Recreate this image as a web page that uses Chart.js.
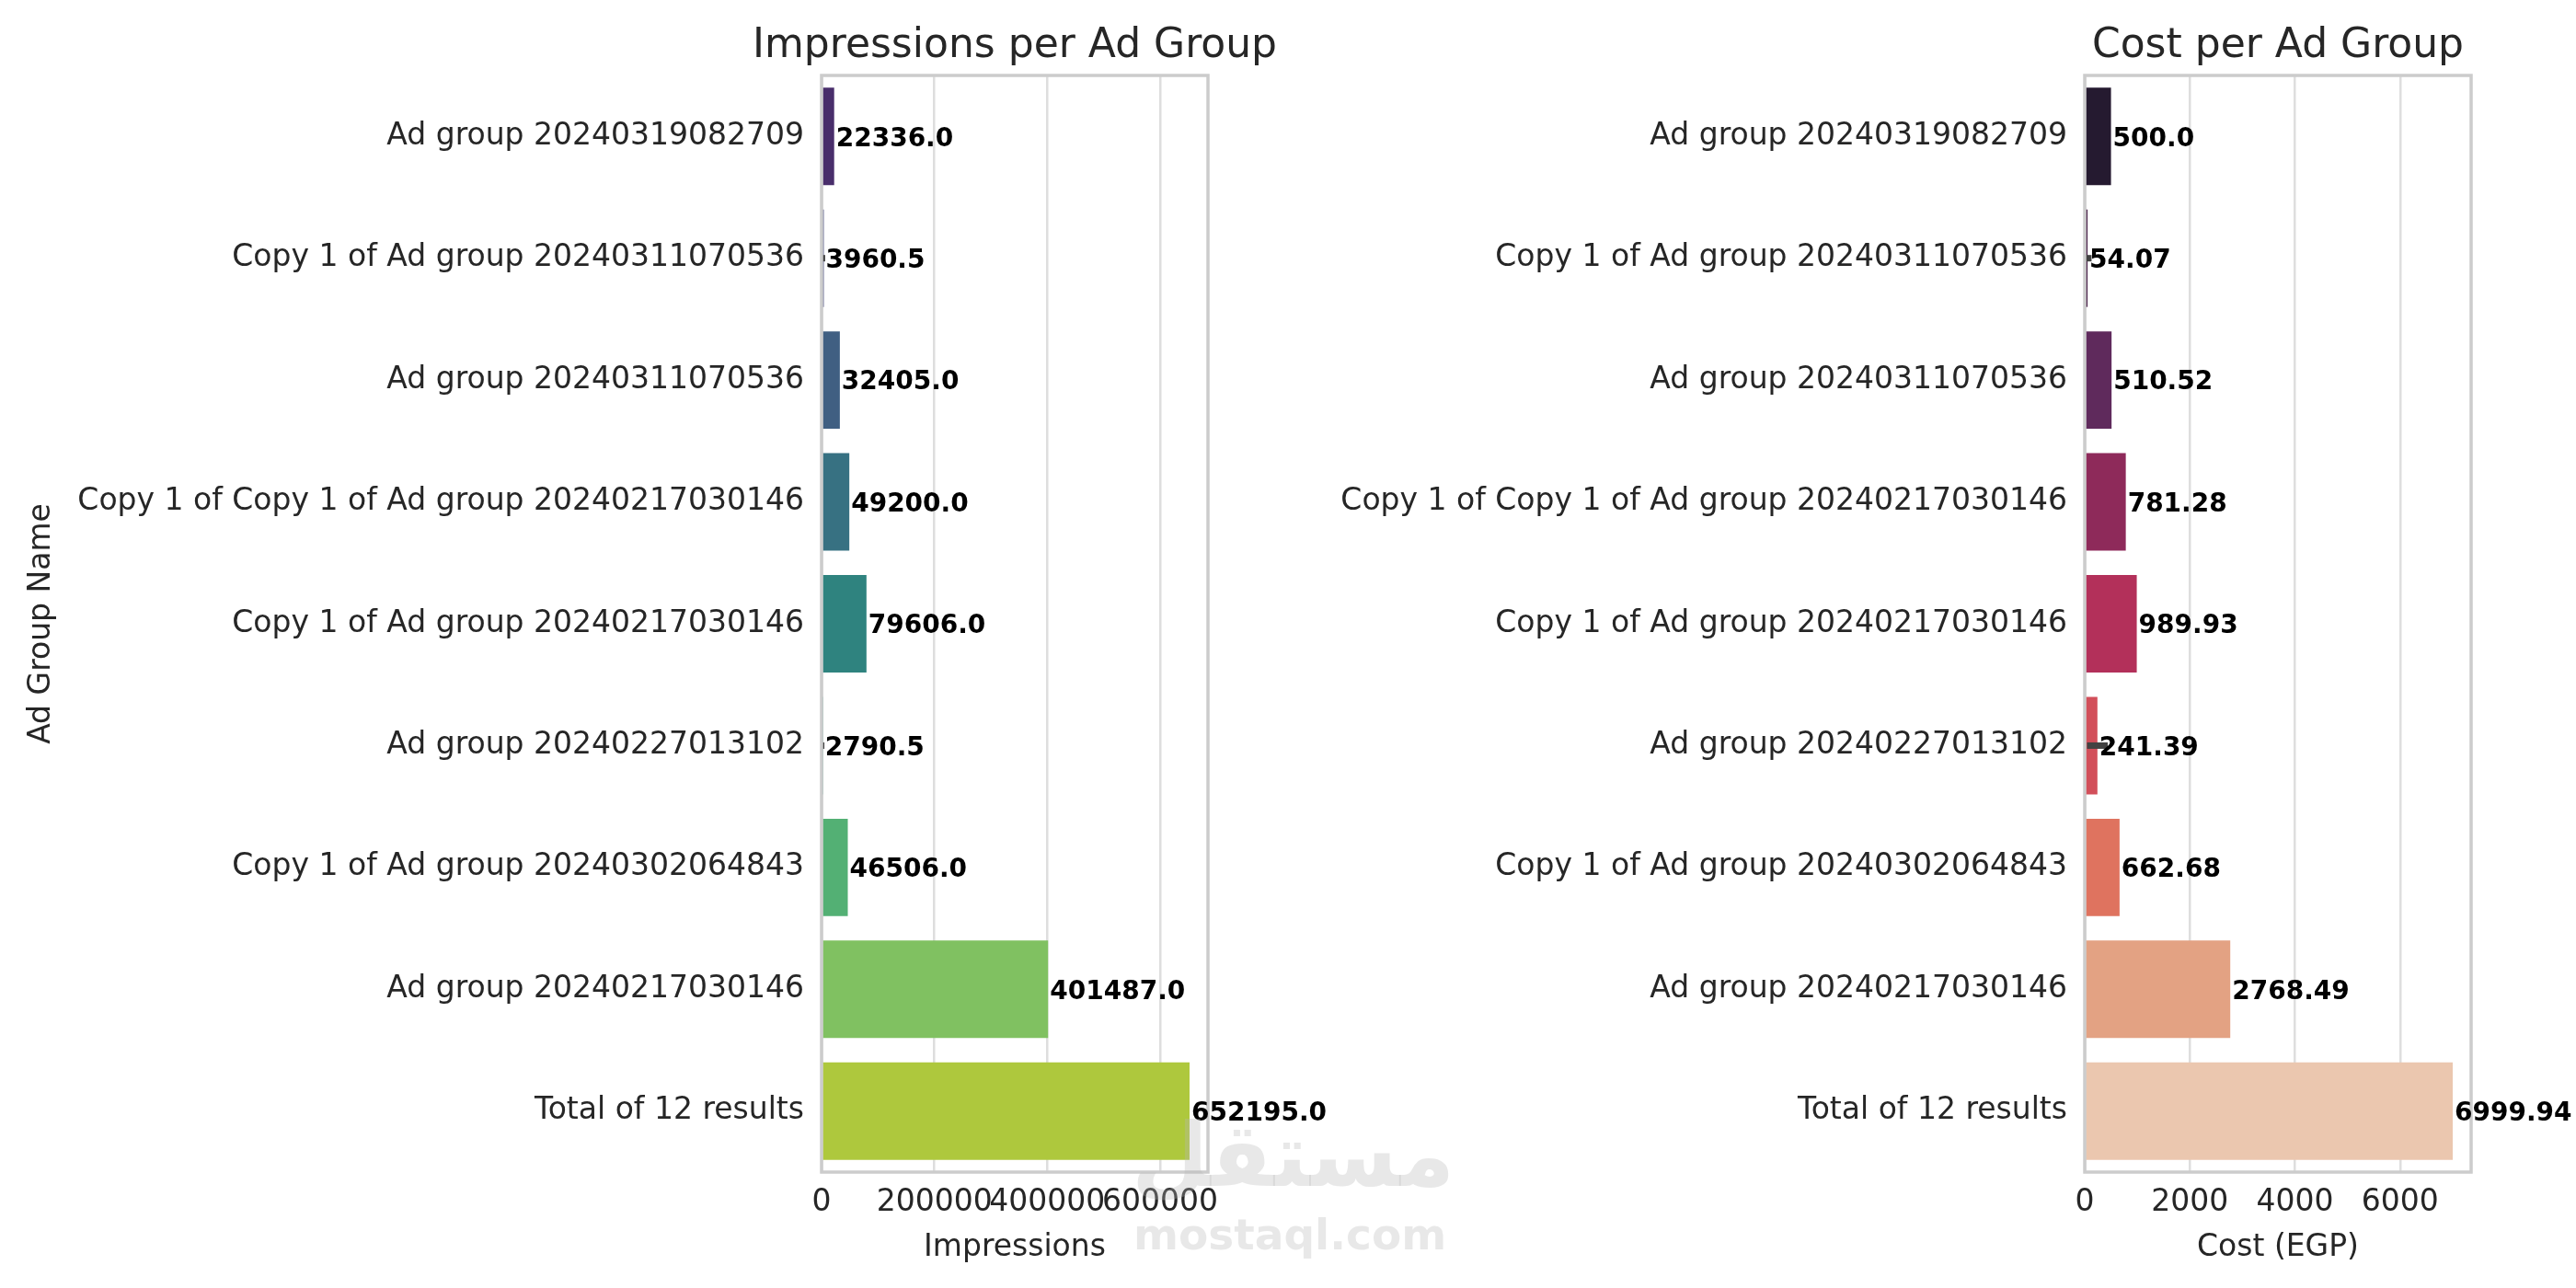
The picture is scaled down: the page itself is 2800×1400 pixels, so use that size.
<!DOCTYPE html>
<html>
<head>
<meta charset="utf-8">
<script src="https://cdn.jsdelivr.net/npm/chart.js@4.4.1/dist/chart.umd.min.js"></script>
<style>
  html, body { margin: 0; padding: 0; background: #fff; }
  body { width: 2800px; height: 1400px; position: relative; overflow: hidden; font-family: "DejaVu Sans", sans-serif; }
  .box { position: absolute; top: 0; height: 1400px; }
  #boxLeft { left: 0; width: 1600px; }
  #boxRight { left: 1400px; width: 1400px; }
  .wm { position: absolute; color: rgba(185, 185, 185, 0.32); font-weight: bold; pointer-events: none; white-space: nowrap; font-family: "DejaVu Sans", sans-serif; }
</style>
</head>
<body>
<div class="box" id="boxLeft"><canvas id="chartImpressions" width="1600" height="1400"></canvas></div>
<div class="box" id="boxRight"><canvas id="chartCost" width="1400" height="1400"></canvas></div>
<div class="wm" style="left:1230px; top:1200px; font-size:96px;">مستقل</div>
<div class="wm" style="left:1232px; top:1314px; font-size:47px;">mostaql.com</div>
<script>
// data
const adGroups = [
    "Ad group 20240319082709",
    "Copy 1 of Ad group 20240311070536",
    "Ad group 20240311070536",
    "Copy 1 of Copy 1 of Ad group 20240217030146",
    "Copy 1 of Ad group 20240217030146",
    "Ad group 20240227013102",
    "Copy 1 of Ad group 20240302064843",
    "Ad group 20240217030146",
    "Total of 12 results",
];
const impressions = [22336, 3960.5, 32405, 49200, 79606, 2790.5, 46506, 401487, 652195];
const impressionsErrLow = [null, 1500, null, null, null, 600, null, null, null];
const impressionsErrHigh = [null, 6400, null, null, null, 4980, null, null, null];
const cost = [500, 54.07, 510.52, 781.28, 989.93, 241.39, 662.68, 2768.49, 6999.94];
const costErrLow = [null, 5, null, null, null, 44, null, null, null];
const costErrHigh = [null, 130, null, null, null, 438, null, null, null];
const impressionTicks = [0, 200000, 400000, 600000];
const costTicks = [0, 2000, 4000, 6000];

// viridis / rocket, already desaturated like seaborn does (0.75)
const viridisColors = ["#492e6b", "#4a4c7e", "#405f82", "#377182", "#2f837f", "#33977c", "#53b074", "#80c161", "#aec83d"];
const rocketColors = ["#251a30", "#4a2249", "#5f2a5c", "#8e2a5a", "#b3305a", "#d24f5a", "#df735f", "#e3a283", "#ebc7af"];

Chart.defaults.font.family = "'DejaVu Sans', sans-serif";
Chart.defaults.color = "#262626";

// python-style float text: 22336 -> "22336.0"
function fmt(v) {
    return Number.isInteger(v) ? v.toFixed(1) : String(v);
}

const extrasPlugin = {
    id: "extras",
    afterDatasetsDraw(chart, args, opts) {
        const { ctx, chartArea: a } = chart;
        const x = chart.scales.x;
        const meta = chart.getDatasetMeta(0);
        ctx.save();

        // error bars (CI) where the group had several rows
        ctx.strokeStyle = "#424242";
        ctx.lineWidth = 7;
        opts.errLow.forEach((lo, i) => {
            if (lo === null) return;
            const yc = meta.data[i].y;
            ctx.beginPath();
            ctx.moveTo(x.getPixelForValue(lo), yc);
            ctx.lineTo(x.getPixelForValue(opts.errHigh[i]), yc);
            ctx.stroke();
        });

        // spines on all four sides
        ctx.strokeStyle = "#cccccc";
        ctx.lineWidth = 3.5;
        ctx.strokeRect(a.left, a.top, a.right - a.left, a.bottom - a.top);

        // value labels next to each bar
        ctx.fillStyle = "#000";
        ctx.font = "bold 28px 'DejaVu Sans'";
        ctx.textAlign = "left";
        ctx.textBaseline = "middle";
        opts.values.forEach((v, i) => {
            ctx.fillText(fmt(v), x.getPixelForValue(v) + 2, meta.data[i].y + 3);
        });

        // title centred over the plot area
        ctx.fillStyle = "#262626";
        ctx.font = "44px 'DejaVu Sans'";
        ctx.textAlign = "center";
        ctx.fillText(opts.title, (a.left + a.right) / 2, 51);
        ctx.restore();
    },
};

function makeChart(canvasId, values, errLow, errHigh, colors, tickValues, cfg) {
    const ctx = document.getElementById(canvasId).getContext("2d");
    return new Chart(ctx, {
        type: "bar",
        data: {
            labels: adGroups,
            datasets: [
                {
                    data: values,
                    backgroundColor: colors,
                    borderWidth: 0,
                    categoryPercentage: 1.0,
                    barPercentage: 0.8,
                },
            ],
        },
        options: {
            indexAxis: "y",
            responsive: false,
            animation: false,
            devicePixelRatio: 1,
            layout: { padding: { top: 82, right: cfg.padRight, bottom: 0, left: 0 } },
            plugins: {
                legend: { display: false },
                tooltip: { enabled: false },
                extras: { values: values, errLow: errLow, errHigh: errHigh, title: cfg.title },
            },
            scales: {
                x: {
                    min: 0,
                    max: Math.max(...values) * 1.05,
                    afterBuildTicks: (axis) => {
                        axis.ticks = tickValues.map((v) => ({ value: v }));
                    },
                    afterFit: (axis) => {
                        axis.height = 126;
                    },
                    grid: { color: "#dedede", lineWidth: 2.5, drawTicks: false },
                    border: { display: false },
                    ticks: {
                        font: { size: 33 },
                        color: "#262626",
                        padding: 14,
                        maxRotation: 0,
                        autoSkip: false,
                        callback: (v) => String(v),
                    },
                    title: {
                        display: true,
                        text: cfg.xTitle,
                        font: { size: 33 },
                        color: "#262626",
                        padding: { top: 0, bottom: 24 },
                    },
                },
                y: {
                    afterFit: (axis) => {
                        axis.width = cfg.yWidth;
                    },
                    grid: { display: false },
                    border: { display: false },
                    ticks: {
                        font: { size: 33 },
                        color: "#262626",
                        padding: 11,
                        autoSkip: false,
                    },
                    title: {
                        display: cfg.yTitle !== "",
                        text: cfg.yTitle,
                        font: { size: 33 },
                        color: "#262626",
                        padding: { top: 26, bottom: 0 },
                    },
                },
            },
        },
        plugins: [extrasPlugin],
    });
}

makeChart("chartImpressions", impressions, impressionsErrLow, impressionsErrHigh, viridisColors, impressionTicks, {
    title: "Impressions per Ad Group",
    xTitle: "Impressions",
    yTitle: "Ad Group Name",
    yWidth: 893,
    padRight: 287,
});

makeChart("chartCost", cost, costErrLow, costErrHigh, rocketColors, costTicks, {
    title: "Cost per Ad Group",
    xTitle: "Cost (EGP)",
    yTitle: "",
    yWidth: 866,
    padRight: 114,
});
</script>
</body>
</html>
